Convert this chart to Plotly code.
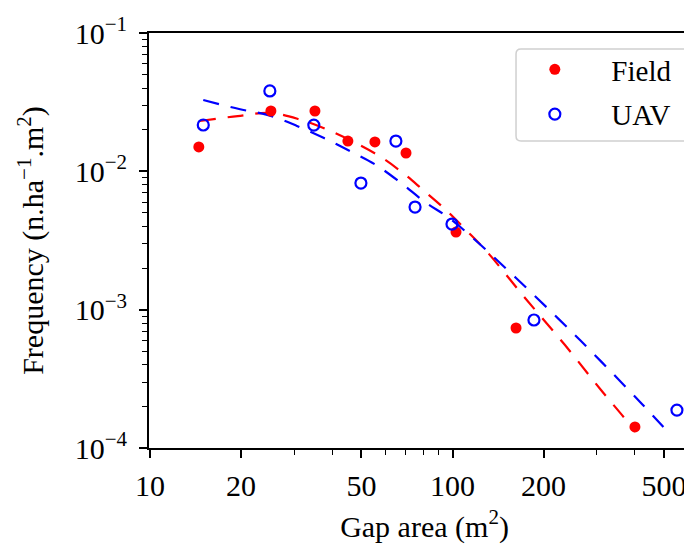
import plotly.graph_objects as go

# ---- data ----
field_x = [14.5, 25.1, 35.1, 45.1, 55.4, 70.2, 102.7, 162.2, 401]
field_y = [0.0150, 0.0273, 0.0273, 0.01656, 0.0163, 0.01357, 0.00364, 0.000737, 0.000142]

uav_x = [15.0, 24.9, 34.8, 49.8, 65.0, 75.2, 99.6, 185.9, 552]
uav_y = [0.02163, 0.0381, 0.0216, 0.00823, 0.01656, 0.00552, 0.00416, 0.000842, 0.000188]

# dashed trend lines
field_fit_x = [14.6, 19.5, 24.9, 30.9, 38.8, 55.9, 68.6, 79.9, 95.2, 110.8, 131.1, 173.7, 235.4, 309.7, 374.7, 401]
field_fit_y = [0.0231, 0.0251, 0.0264, 0.0239, 0.0199, 0.01334, 0.00973, 0.00733, 0.00525, 0.00377,
               0.002568, 0.001215, 0.000555, 0.0002625, 0.0001594, 0.000131]

uav_fit_x = [15.0, 19.7, 24.6, 30.6, 37.6, 45.8, 55.9, 67.6, 81.1, 97.4, 117.8, 162.2, 263.9, 423, 520]
uav_fit_y = [0.0328, 0.0282, 0.0255, 0.0213, 0.0174, 0.0140, 0.0111, 0.00823, 0.0060, 0.0046,
             0.00324, 0.001694, 0.000603, 0.000208, 0.000128]

x_tickvals = [10, 20, 50, 100, 200, 500]
x_ticktext = ["10", "20", "50", "100", "200", "500"]
x_minor = [30, 40, 60, 70, 80, 90, 300, 400, 600]

y_tickvals = [1e-4, 1e-3, 1e-2, 1e-1]
y_ticktext = ["10<sup>−4</sup>", "10<sup>−3</sup>", "10<sup>−2</sup>", "10<sup>−1</sup>"]
y_minor = [m * 10 ** e for e in (-4, -3, -2) for m in range(2, 10)]

RED = "#ff0000"
BLUE = "#0000ff"
FONT = "Liberation Serif, Times New Roman, serif"
FS = 30

fig = go.Figure()
fig.add_trace(go.Scatter(x=field_fit_x, y=field_fit_y, mode="lines", showlegend=False,
                         line=dict(color=RED, width=2.2, dash="16px,12px", shape="spline")))
fig.add_trace(go.Scatter(x=uav_fit_x, y=uav_fit_y, mode="lines", showlegend=False,
                         line=dict(color=BLUE, width=2.2, dash="16px,12px", shape="spline")))
fig.add_trace(go.Scatter(x=field_x, y=field_y, mode="markers", name="Field", legendgroup="a",
                         marker=dict(symbol="circle", size=11, color=RED)))
fig.add_trace(go.Scatter(x=uav_x, y=uav_y, mode="markers", name="UAV", legendgroup="b",
                         marker=dict(symbol="circle-open", size=11, color=BLUE,
                                     line=dict(width=2.2, color=BLUE))))

axis_common = dict(showgrid=False, zeroline=False, showline=True, linecolor="black", linewidth=2,
                   ticks="outside", ticklen=8, tickwidth=1.6, tickcolor="black",
                   tickfont=dict(family=FONT, size=FS, color="black"))

fig.update_xaxes(type="log", range=[0.9967, 2.8182], mirror=True,
                 tickmode="array", tickvals=x_tickvals, ticktext=x_ticktext,
                 ticklabelstandoff=2,
                 minor=dict(tickmode="array", tickvals=x_minor, ticks="outside", ticklen=5,
                            tickwidth=1.3, tickcolor="black"),
                 title=dict(text="Gap area (m<sup>2</sup>)", font=dict(family=FONT, size=FS, color="black"),
                            standoff=15),
                 **axis_common)
fig.update_yaxes(type="log", range=[-4, -1], mirror=False,
                 tickmode="array", tickvals=y_tickvals, ticktext=y_ticktext,
                 ticklabelstandoff=6,
                 minor=dict(tickmode="array", tickvals=y_minor, ticks="outside", ticklen=5,
                            tickwidth=1.3, tickcolor="black"),
                 title=dict(text="Frequency (n.ha<sup>−1</sup>.m<sup>2</sup>)",
                            font=dict(family=FONT, size=FS, color="black"), standoff=22),
                 **axis_common)

# rounded legend frame (paper coordinates)
x0, x1, y0, y1 = 0.6661, 0.9782, 0.7398, 0.9614
rx, ry = 0.009, 0.012
frame = (f"M {x0+rx},{y1} L {x1-rx},{y1} Q {x1},{y1} {x1},{y1-ry} "
         f"L {x1},{y0+ry} Q {x1},{y0} {x1-rx},{y0} L {x0+rx},{y0} "
         f"Q {x0},{y0} {x0},{y0+ry} L {x0},{y1-ry} Q {x0},{y1} {x0+rx},{y1} Z")

fig.update_layout(
    width=692, height=545,
    margin=dict(l=141, r=0, t=25, b=105),
    paper_bgcolor="white", plot_bgcolor="white",
    font=dict(family=FONT, color="black"),
    shapes=[dict(type="path", path=frame, xref="paper", yref="paper",
                 line=dict(color="#d0d0d0", width=1.5), fillcolor="rgba(255,255,255,0.85)",
                 layer="above")],
    legend=dict(x=0.634, y=0.9735, xanchor="left", yanchor="top",
                bgcolor="rgba(0,0,0,0)", borderwidth=0,
                font=dict(family=FONT, size=29, color="black"),
                itemwidth=103, tracegroupgap=4),
)

fig.write_html("out.html")
